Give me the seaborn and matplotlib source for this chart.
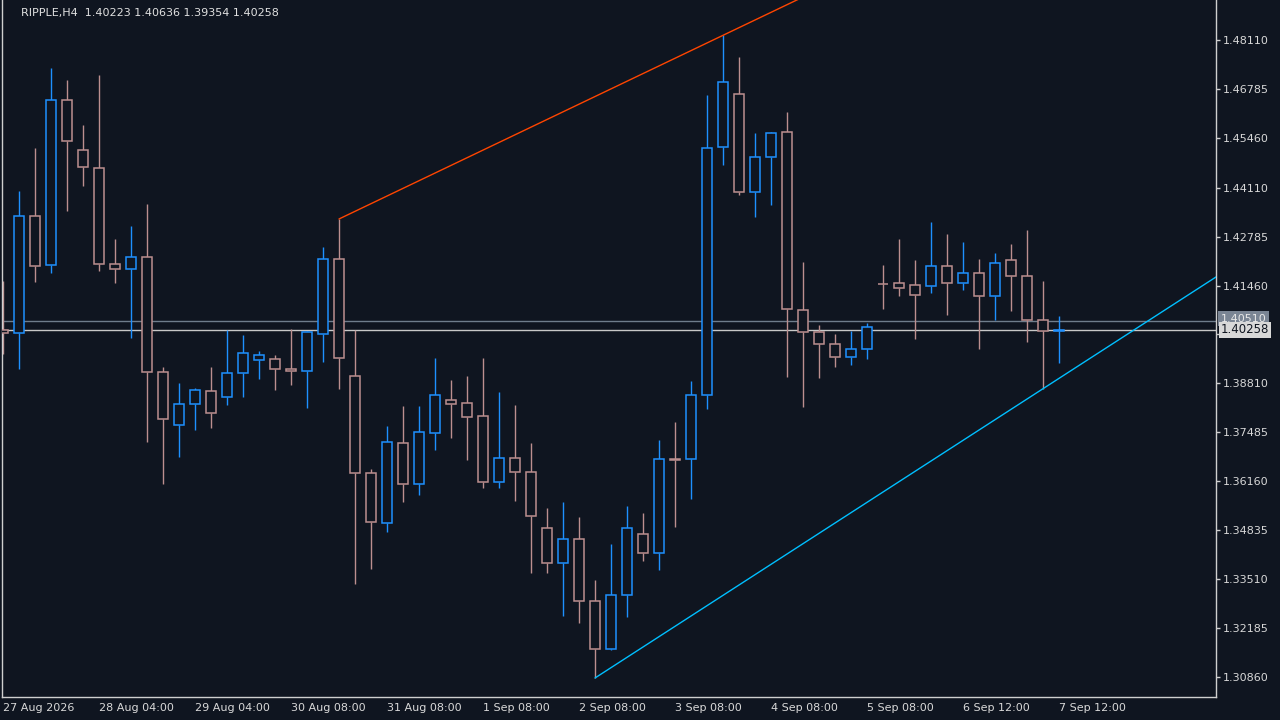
import numpy as np
import pandas as pd
import matplotlib
matplotlib.use("Agg")
import matplotlib.pyplot as plt
import seaborn as sns

header = "RIPPLE,H4  1.40223 1.40636 1.39354 1.40258"

opens = [1.40257, 1.40168, 1.43336, 1.42009, 1.46477, 1.45123, 1.44636, 1.42036, 1.41901, 1.42226,
         1.39111, 1.37676, 1.38245, 1.38597, 1.38434, 1.39084, 1.39436, 1.39463, 1.39193, 1.39138,
         1.40140, 1.42171, 1.39003, 1.36376, 1.35022, 1.37189, 1.36078, 1.37459, 1.38353, 1.38272,
         1.37920, 1.36133, 1.36782, 1.36403, 1.34887, 1.33939, 1.34589, 1.32910, 1.31610, 1.33073,
         1.34724, 1.34210, 1.36770, 1.36755, 1.38489, 1.45204, 1.46640, 1.44002, 1.44934, 1.45611,
         1.40790, 1.40195, 1.39870, 1.39518, 1.39734, 1.41510, 1.41521, 1.41467, 1.41440, 1.41982,
         1.41521, 1.41792, 1.41169, 1.42144, 1.41711, 1.40519, 1.40223]
highs = [1.41584, 1.44021, 1.45185, 1.47352, 1.47027, 1.45808, 1.47162, 1.42721, 1.43073, 1.43669,
         1.39255, 1.38822, 1.38686, 1.39255, 1.40257, 1.40121, 1.39688, 1.39580, 1.40284, 1.40222,
         1.42504, 1.43263, 1.40249, 1.36493, 1.37657, 1.38199, 1.38199, 1.39499, 1.38903, 1.39011,
         1.39499, 1.38578, 1.38226, 1.37197, 1.35437, 1.35599, 1.35193, 1.33487, 1.34462, 1.35491,
         1.35301, 1.37278, 1.37765, 1.38876, 1.46621, 1.48237, 1.47650, 1.45592, 1.45611, 1.46160,
         1.42098, 1.40384, 1.40140, 1.40230, 1.40438, 1.42017, 1.42721, 1.42144, 1.43181, 1.42857,
         1.42640, 1.42180, 1.42342, 1.42586, 1.42965, 1.41584, 1.40636]
lows = [1.39607, 1.39209, 1.41565, 1.41808, 1.43487, 1.44164, 1.41863, 1.41538, 1.40048, 1.37232,
        1.36095, 1.36826, 1.37557, 1.37611, 1.38234, 1.38451, 1.38938, 1.38640, 1.38776, 1.38153,
        1.39398, 1.38667, 1.33370, 1.33793, 1.34779, 1.35607, 1.35781, 1.37015, 1.37340, 1.36745,
        1.35986, 1.35986, 1.35634, 1.33685, 1.33663, 1.32520, 1.32331, 1.30833, 1.31600, 1.32493,
        1.34009, 1.33766, 1.34930, 1.35688, 1.38126, 1.44733, 1.43921, 1.43325, 1.43650, 1.38992,
        1.38180, 1.38965, 1.39263, 1.39317, 1.39480, 1.40834, 1.41186, 1.40021, 1.41267, 1.40671,
        1.41348, 1.39750, 1.40519, 1.40779, 1.39940, 1.38667, 1.39354]
closes = [1.40176, 1.43336, 1.41982, 1.46477, 1.45367, 1.44663, 1.42036, 1.41901, 1.42226, 1.39111,
          1.37839, 1.38245, 1.38624, 1.38001, 1.39084, 1.39626, 1.39572, 1.39193, 1.39138, 1.40195,
          1.42171, 1.39490, 1.36376, 1.35049, 1.37216, 1.36078, 1.37487, 1.38489, 1.38245, 1.37893,
          1.36133, 1.36782, 1.36403, 1.35212, 1.33939, 1.34589, 1.32910, 1.31610, 1.33073, 1.34887,
          1.34210, 1.36755, 1.36740, 1.38489, 1.45177, 1.46965, 1.44002, 1.44934, 1.45583, 1.40817,
          1.40195, 1.39870, 1.39518, 1.39734, 1.40330, 1.41495, 1.41386, 1.41196, 1.41982, 1.41521,
          1.41792, 1.41169, 1.42063, 1.41711, 1.40519, 1.40222, 1.40258]

time_labels = ["27 Aug 2026", "28 Aug 04:00", "29 Aug 04:00", "30 Aug 08:00", "31 Aug 08:00",
               "1 Sep 08:00", "2 Sep 08:00", "3 Sep 08:00", "4 Sep 08:00", "5 Sep 08:00",
               "6 Sep 12:00", "7 Sep 12:00"]
label_step = 6
price_ticks = [1.48110, 1.46785, 1.45460, 1.44110, 1.42785, 1.41460, 1.40135,
               1.38810, 1.37485, 1.36160, 1.34835, 1.33510, 1.32185, 1.30860]
level_price = 1.40510
bid_price = 1.40258
resist_idx = [21, 45]   # trendline through these highs
support_idx = [37, 65]  # trendline through these lows

BG = "#0f1520"
FG = "#cfcfcf"
BULL = "#1e90ff"
BEAR = "#bc8f8f"

sns.set_style("dark", {"axes.facecolor": BG, "figure.facecolor": BG})
plt.rcParams["font.family"] = ["DejaVu Sans"]

df = pd.DataFrame({"open": opens, "high": highs, "low": lows, "close": closes})
df["idx"] = np.arange(len(df))
df["bull"] = df["close"] > df["open"]
df["color"] = np.where(df["bull"], BULL, BEAR)
df["bot"] = df[["open", "close"]].min(axis=1)
df["top"] = df[["open", "close"]].max(axis=1)

fig = plt.figure(figsize=(12.8, 7.2), dpi=100)
ax = fig.add_axes([2 / 1280, 23 / 720, 1214 / 1280, 697 / 720])
ax.set_facecolor(BG)

# wicks
ax.vlines(df["idx"], df["low"], df["bot"], colors=df["color"], lw=1.0, zorder=2)
ax.vlines(df["idx"], df["top"], df["high"], colors=df["color"], lw=1.0, zorder=2)
# hollow bodies
ax.bar(df["idx"], df["top"] - df["bot"], bottom=df["bot"], width=0.62,
       facecolor=BG, edgecolor=df["color"], linewidth=1.1, zorder=3)

# horizontal lines
ax.axhline(level_price, color="#6f7d8c", lw=1.0, zorder=1)
ax.axhline(bid_price, color="#c8c8c8", lw=1.0, zorder=1)

# trendlines
x_end = 90
def tline(i0, i1, series):
    y0, y1 = series[i0], series[i1]
    slope = (y1 - y0) / (i1 - i0)
    xs = np.array([i0, x_end])
    return pd.DataFrame({"x": xs, "y": y0 + slope * (xs - i0)})

r = tline(resist_idx[0], resist_idx[1], highs)
s = tline(support_idx[0], support_idx[1], lows)
sns.lineplot(data=r, x="x", y="y", color="#ff4500", lw=1.0, ax=ax, zorder=4)
sns.lineplot(data=s, x="x", y="y", color="#00bfff", lw=1.0, ax=ax, zorder=4)

# limits (16 px per bar, price scale per pixel)
px_per_bar = 16
ax.set_xlim(-1 / px_per_bar, -1 / px_per_bar + 1214 / px_per_bar)
k = 0.0002708
ax.set_ylim(1.48110 - 657 * k, 1.48110 + 40 * k)

# axes styling
for side in ["left", "bottom", "right"]:
    ax.spines[side].set_visible(True)
    ax.spines[side].set_color(FG)
    ax.spines[side].set_linewidth(1.0)
ax.spines["top"].set_visible(False)
ax.grid(False)

ax.set_xticks(np.arange(0, len(df), label_step))
ax.set_xticklabels(time_labels)
for t in ax.get_xticklabels():
    t.set_ha("left")
ax.yaxis.tick_right()
ax.set_yticks(price_ticks)
ax.set_yticklabels([f"{p:.5f}" for p in price_ticks])
ax.tick_params(axis="both", colors=FG, labelcolor="#d8d8d8", labelsize=8, length=3,
               width=1, direction="out")
ax.tick_params(axis="x", pad=1.5)
ax.tick_params(axis="y", pad=2)
ax.set_xlabel("")
ax.set_ylabel("")

# price labels on right axis
ax.annotate(f"{level_price:.5f}", xy=(1.0, level_price), xycoords=("axes fraction", "data"),
            xytext=(3.5, 1.5), textcoords="offset points", va="center", ha="left",
            fontsize=8, color="#e8e8e8", zorder=10, annotation_clip=False,
            bbox=dict(boxstyle="square,pad=0.25", fc="#7a8594", ec="none"))
ax.annotate(f"{bid_price:.5f}", xy=(1.0, bid_price), xycoords=("axes fraction", "data"),
            xytext=(3.5, 0), textcoords="offset points", va="center", ha="left",
            fontsize=8.5, color="#0f1520", zorder=11, annotation_clip=False,
            bbox=dict(boxstyle="square,pad=0.12", fc="#d8d8d8", ec="none"))

fig.text(21 / 1280, 1 - 13 / 720, header, color="#e0e0e0", fontsize=8, va="center", ha="left")

fig.savefig("out.png", dpi=100, facecolor=BG)
